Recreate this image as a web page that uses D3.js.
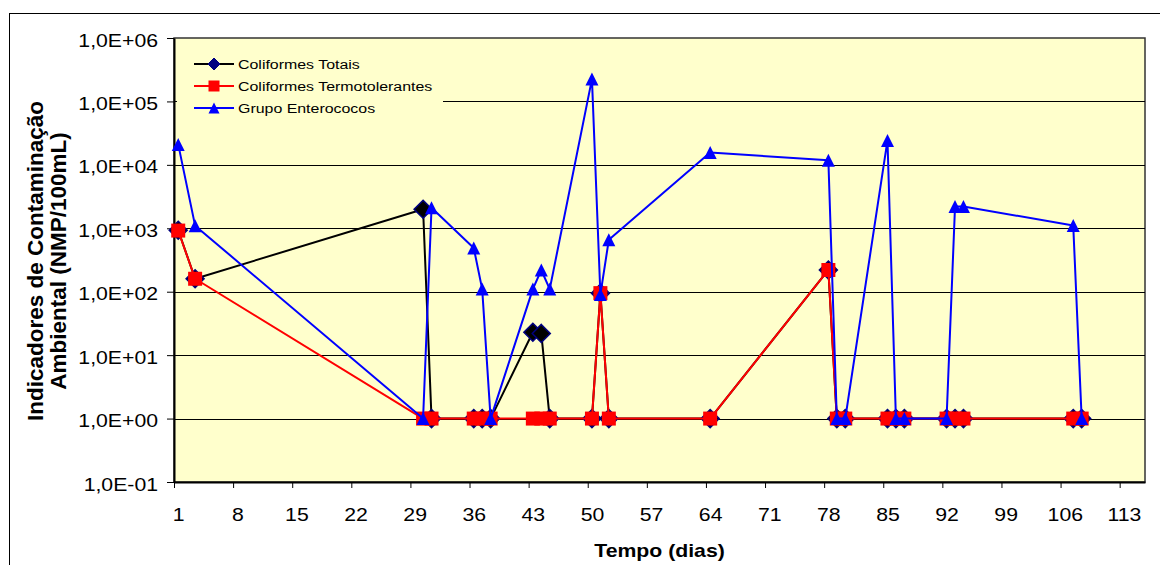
<!DOCTYPE html>
<html>
<head>
<meta charset="utf-8">
<script src="https://cdn.jsdelivr.net/npm/d3@7"></script>
<style>
  body { margin: 0; background: #fff; }
  text { font-family: "Liberation Sans", Arial, sans-serif; }
</style>
</head>
<body>
<script>
// category (dia) of each sample
const dias = [1, 3, 30, 31, 36, 37, 38, 43, 44, 45, 50, 51, 52, 64, 78, 79, 80, 85, 86, 87, 92, 93, 94, 107, 108];

const coliformesTotais = [930, 160, 2000, 1, 1, 1, 1, 23, 22, 1, 1, 95, 1, 1, 220, 1, 1, 1, 1, 1, 1, 1, 1, 1, 1];
const coliformesTermo = [920, 160, 1, 1, 1, 1, 1, 1, 1, 1, 1, 95, 1, 1, 220, 1, 1, 1, 1, 1, 1, 1, 1, 1, 1];
const enterococos = [21000, 1100, 1, 2100, 490, 110, 1, 110, 220, 110, 225000, 90, 660, 15600, 11800, 1, 1, 24300, 1, 1, 1, 2200, 2200, 1110, 1];

const xTickLabels = [1, 8, 15, 22, 29, 36, 43, 50, 57, 64, 71, 78, 85, 92, 99, 106, 113];
const yTickValues = [1e-1, 1e0, 1e1, 1e2, 1e3, 1e4, 1e5, 1e6];

const seriesNames = ["Coliformes Totais", "Coliformes Termotolerantes", "Grupo Enterococos"];

const width = 1160;
const height = 565;
const plot = { left: 174, right: 1145, top: 38, bottom: 482 };
const SX = 1.18; // glyphs in the picture look a bit wide

const svg = d3.select("body").append("svg")
    .attr("width", width)
    .attr("height", height);

// outer chart border
svg.append("rect")
    .attr("x", 9.5).attr("y", 13.5)
    .attr("width", width).attr("height", height)
    .attr("fill", "#fff")
    .attr("stroke", "#000")
    .attr("stroke-width", 1);

const x = d3.scaleLinear().domain([0.5, 115.5]).range([plot.left, plot.right]);
const y = d3.scaleLog().domain([0.1, 1e6]).range([plot.bottom, plot.top]);

// plot area
svg.append("rect")
    .attr("x", plot.left).attr("y", plot.top)
    .attr("width", plot.right - plot.left)
    .attr("height", plot.bottom - plot.top)
    .attr("fill", "#ffffcc")
    .attr("stroke", "#333")
    .attr("stroke-width", 1.5);

// gridlines
svg.append("g")
    .selectAll("line")
    .data(yTickValues.slice(1, -1))
    .enter()
    .append("line")
    .attr("x1", plot.left).attr("x2", plot.right)
    .attr("y1", d => Math.round(y(d)) + 0.5)
    .attr("y2", d => Math.round(y(d)) + 0.5)
    .attr("stroke", "#000")
    .attr("stroke-width", 1);

function fmtExp(d) {
    const e = Math.round(Math.log10(d));
    const sign = e < 0 ? "-" : "+";
    return "1,0E" + sign + String(Math.abs(e)).padStart(2, "0");
}

// y axis
const yAxis = svg.append("g")
    .attr("transform", `translate(${plot.left},0)`)
    .call(d3.axisLeft(y).tickValues(yTickValues).tickFormat(fmtExp).tickSize(7).tickSizeOuter(0));
yAxis.select(".domain").attr("stroke", "#000").attr("stroke-width", 2);
yAxis.selectAll(".tick line").attr("stroke", "#000");
yAxis.selectAll(".tick text")
    .attr("font-size", 18)
    .attr("fill", "#000")
    .attr("x", -16 / SX)
    .attr("dy", "0.45em")
    .attr("transform", `scale(${SX},1)`);

// x axis: tick marks sit between categories, labels on the categories
const half = x(1) - x(0.5);
const xAxis = svg.append("g")
    .attr("transform", `translate(0,${plot.bottom})`)
    .call(d3.axisBottom(x).tickValues(xTickLabels.map(d => d - 0.5)).tickFormat(d => d + 0.5).tickSize(6).tickSizeOuter(0));
xAxis.select(".domain").attr("stroke", "#000").attr("stroke-width", 2);
xAxis.selectAll(".tick line").attr("stroke", "#000");
xAxis.selectAll(".tick text")
    .attr("font-size", 18)
    .attr("fill", "#000")
    .attr("x", half / SX)
    .attr("y", 33)
    .attr("dy", "0.32em")
    .attr("transform", `scale(${SX},1)`);

// axis titles
svg.append("text")
    .attr("transform", `translate(${(plot.left + plot.right) / 2},557) scale(${SX},1)`)
    .attr("text-anchor", "middle")
    .attr("font-size", 18)
    .attr("font-weight", "bold")
    .text("Tempo (dias)");

const yTitle = svg.append("g")
    .attr("transform", `translate(0,261)`);
["Indicadores de Contaminação", "Ambiental (NMP/100mL)"].forEach((t, i) => {
    yTitle.append("text")
        .attr("transform", `translate(${43 + i * 23},0) rotate(-90)`)
        .attr("text-anchor", "middle")
        .attr("font-size", 22.5)
        .attr("font-weight", "bold")
        .text(t);
});

// markers
const diamond = r => `M0,${-r}L${r},0L0,${r}L${-r},0Z`;
const square = s => `M${-s / 2},${-s / 2}h${s}v${s}h${-s}Z`;
const triangle = s => `M0,${-s / 2}L${s / 2},${s / 2}L${-s / 2},${s / 2}Z`;

const series = [
    { name: seriesNames[0], values: coliformesTotais, color: "#000", marker: diamond(9), small: diamond(6), fill: "#000", stroke: "#000080" },
    { name: seriesNames[1], values: coliformesTermo, color: "#ff0000", marker: square(14), small: square(11), fill: "#ff0000", stroke: "none" },
    { name: seriesNames[2], values: enterococos, color: "#0000ff", marker: triangle(13), small: triangle(11), fill: "#0000ff", stroke: "none" }
];

const line = d3.line()
    .x(d => x(d[0]))
    .y(d => y(d[1]));

series.forEach(s => {
    const pts = dias.map((d, i) => [d, s.values[i]]);
    svg.append("path")
        .datum(pts)
        .attr("fill", "none")
        .attr("stroke", s.color)
        .attr("stroke-width", 2)
        .attr("stroke-linejoin", "round")
        .attr("d", line);
    svg.append("g")
        .selectAll("path")
        .data(pts)
        .enter()
        .append("path")
        .attr("transform", d => `translate(${x(d[0])},${y(d[1])})`)
        .attr("d", s.marker)
        .attr("fill", s.fill)
        .attr("stroke", s.stroke)
        .attr("stroke-width", 1.5);
});

// legend
const legend = svg.append("g");
legend.append("rect")
    .attr("x", 177).attr("y", 45)
    .attr("width", 266).attr("height", 82)
    .attr("fill", "#ffffcc");

series.forEach((s, i) => {
    const ly = 64 + i * 22;
    legend.append("line")
        .attr("x1", 194).attr("x2", 234)
        .attr("y1", ly).attr("y2", ly)
        .attr("stroke", s.color)
        .attr("stroke-width", 2);
    legend.append("path")
        .attr("transform", `translate(214,${ly})`)
        .attr("d", s.small)
        .attr("fill", i === 0 ? "#000080" : s.fill)
        .attr("stroke", s.stroke);
    legend.append("text")
        .attr("transform", `translate(238,${ly + 5}) scale(${SX},1)`)
        .attr("font-size", 13.5)
        .text(s.name);
});
</script>
</body>
</html>
